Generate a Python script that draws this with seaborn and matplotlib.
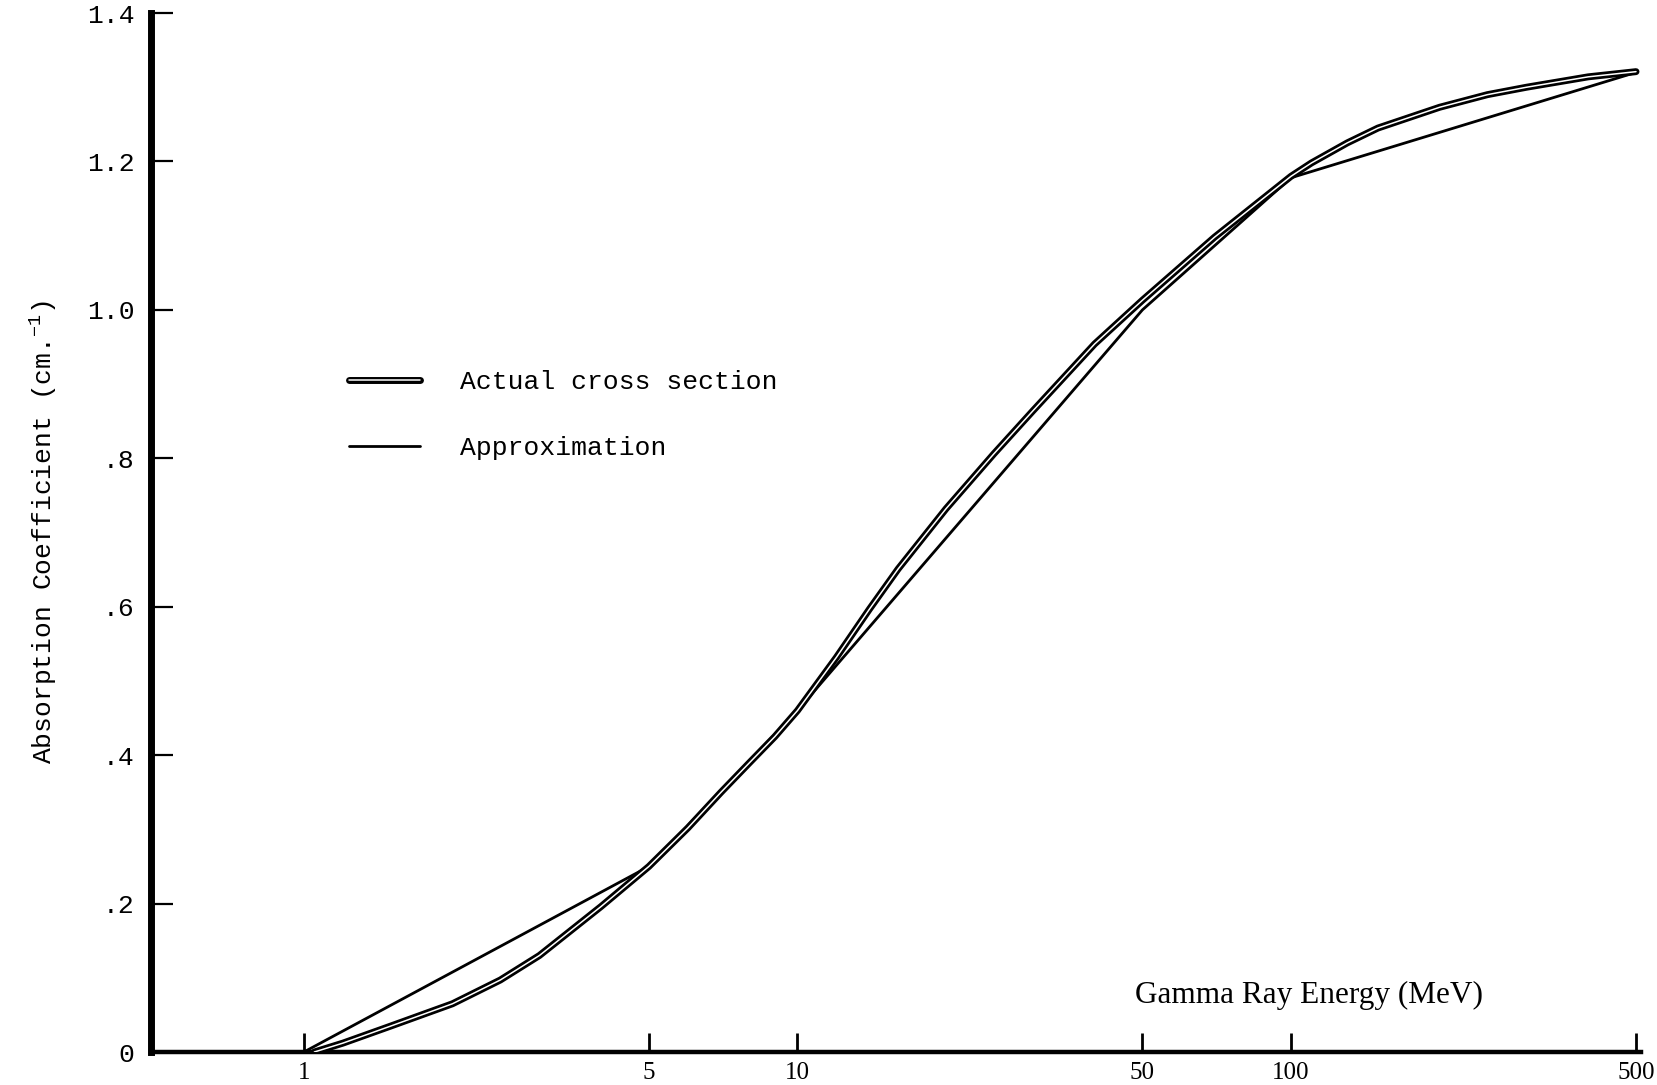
import matplotlib
matplotlib.use("Agg")
import matplotlib.pyplot as plt
import matplotlib.patheffects as pe
import pandas as pd
import seaborn as sns

# Measured absorption coefficient versus gamma-ray energy
energy_actual = [1.05, 1.2, 1.5, 2.0, 2.5, 3.0, 4.0, 5.0, 6.0, 7.0, 8.0, 9.0, 10, 12,
                 14, 16, 20, 25, 30, 40, 50, 70, 100, 110, 130, 150, 200, 250, 300,
                 400, 500]
coef_actual = [0.0, 0.012, 0.035, 0.065, 0.097, 0.13, 0.196, 0.25, 0.302, 0.35, 0.39,
               0.425, 0.46, 0.532, 0.597, 0.651, 0.732, 0.806, 0.864, 0.954, 1.013,
               1.098, 1.18, 1.198, 1.225, 1.245, 1.273, 1.29, 1.30, 1.314, 1.321]

# Piecewise-linear (in log energy) approximation
energy_approx = [1, 5, 10, 50, 100, 500]
coef_approx = [0.0, 0.25, 0.46, 1.0, 1.178, 1.32]

x_ticks = [1, 5, 10, 50, 100, 500]
x_tick_labels = ["1", "5", "10", "50", "100", "500"]
y_ticks = [0, 0.2, 0.4, 0.6, 0.8, 1.0, 1.2, 1.4]
y_tick_labels = ["0", ".2", ".4", ".6", ".8", "1.0", "1.2", "1.4"]

sns.set_theme(style="white")
mono = ["Liberation Mono", "DejaVu Sans Mono"]
serif = ["Liberation Serif", "DejaVu Serif"]
plt.rcParams["font.family"] = mono
plt.rcParams["mathtext.fontset"] = "custom"
plt.rcParams["mathtext.rm"] = "Liberation Mono"
plt.rcParams["mathtext.it"] = "Liberation Mono"
plt.rcParams["mathtext.bf"] = "Liberation Mono:bold"

df_actual = pd.DataFrame({"energy": energy_actual, "coef": coef_actual})
df_approx = pd.DataFrame({"energy": energy_approx, "coef": coef_approx})

fig = plt.figure(figsize=(16.57, 10.85), dpi=100)
ax = fig.add_axes([0.0911, 0.0304, 0.8993, 0.9576])

sns.lineplot(data=df_approx, x="energy", y="coef", ax=ax, color="black",
             linewidth=2.0, label="Approximation", zorder=2)
sns.lineplot(data=df_actual, x="energy", y="coef", ax=ax, color="white",
             linewidth=1.1, label="Actual cross section", zorder=3,
             path_effects=[pe.Stroke(linewidth=5.0, foreground="black"), pe.Normal()])

ax.set_xscale("log")
ax.set_xlim(0.49, 512)
ax.set_ylim(0, 1.4)

ax.set_xticks(x_ticks)
ax.set_xticklabels(x_tick_labels, fontfamily=serif, fontsize=18)
ax.xaxis.set_minor_locator(matplotlib.ticker.NullLocator())
ax.set_yticks(y_ticks)
ax.set_yticklabels(y_tick_labels, fontsize=19)

ax.tick_params(axis="x", which="major", bottom=True, direction="in", length=14,
               width=2.0, pad=7, colors="black")
ax.tick_params(axis="y", which="major", left=True, direction="in", length=16,
               width=1.6, pad=12, colors="black")

for side in ("top", "right"):
    ax.spines[side].set_visible(False)
ax.spines["left"].set_linewidth(5.0)
ax.spines["left"].set_color("black")
ax.spines["bottom"].set_linewidth(3.2)
ax.spines["bottom"].set_color("black")

ax.set_ylabel(r"Absorption Coefficient (cm.$^{\mathregular{-1}}$)", fontsize=19,
              color="black", labelpad=20)
ax.set_xlabel("Gamma Ray Energy (MeV)", fontfamily=serif, fontsize=22.5, color="black")
ax.xaxis.set_label_coords(0.777, 0.068)

handles, labels = ax.get_legend_handles_labels()
order = [labels.index("Actual cross section"), labels.index("Approximation")]
leg = ax.legend([handles[i] for i in order], [labels[i] for i in order],
                loc="upper left", bbox_to_anchor=(0.133, 0.656), frameon=False,
                fontsize=19, handlelength=2.7, handletextpad=1.5, labelspacing=1.57,
                borderpad=0, borderaxespad=0)
for t in leg.get_texts():
    t.set_color("black")

fig.savefig("out.png", dpi=100, facecolor="white")
